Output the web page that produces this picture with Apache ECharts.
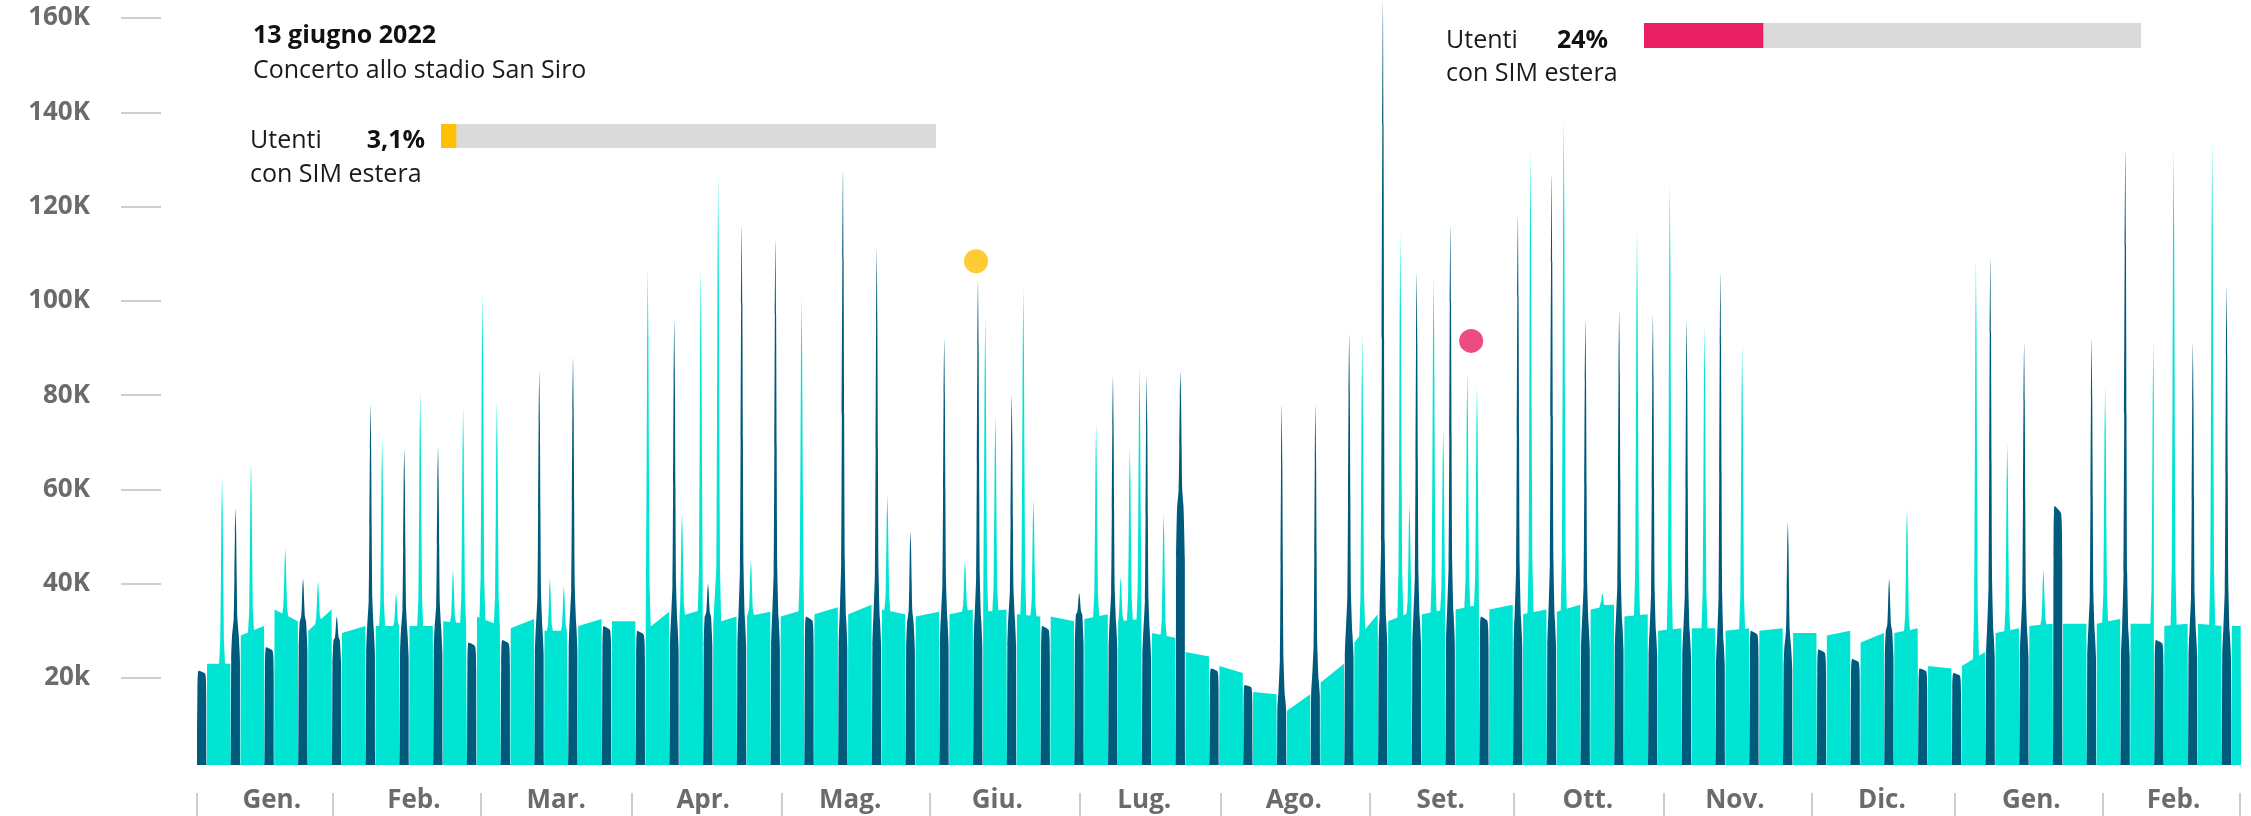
<!DOCTYPE html>
<html>
<head>
<meta charset="utf-8">
<title>Utenti giornalieri – area San Siro</title>
<script src="https://cdn.jsdelivr.net/npm/echarts@6/dist/echarts.min.js"></script>
<style>
  html, body { margin: 0; padding: 0; background: #ffffff; }
  #chart { width: 2251px; height: 816px; }
</style>
</head>
<body>
<div id="chart"></div>
<script>
// Day 0 = Saturday 1 January 2022. Weekend k covers days 7k..7k+2,
// working week k (Mon–Fri) covers days 7k+2..7k+7. Values are in thousands of users.

// Mon–Fri plateau level of each working week: [first day, last day]
const weekLevels = [
  [21.5,21.5],[27.5,29.5],[33,30.5],[28.5,33],[28,29.5],
  [29.5,29.5],[29.5,29.5],[30.5,30],[31.5,29.5],[29,31],
  [28.5,28.5],[29.5,31],[30.5,30.5],[28.5,32.5],[31.5,33],
  [30,31.5],[31.5,32.5],[31.5,33],[32,33.5],[32,34],
  [33,32],[31.5,32.5],[32,33],[32.5,33],[32,31.5],
  [31.5,30.5],[31,32],[30.5,31],[28,27],[24,23],
  [21,19.5],[15.5,15],[11.5,15],[17.5,21.5],[26,32],
  [30.5,32.5],[32,33],[33,34],[33,34],[32,33],
  [32.5,34],[33,34],[31.5,32],[28.5,29],[29,29],
  [28.5,29],[28.5,29],[28,28],[27.5,28.5],[26,28],
  [28,29],[21,20.5],[21,24],[28,29],[29.5,30],
  [30,30],[30,31],[30,30],[29.5,30],[30,29.5],
  [29.5,29.5]
];

// Sat–Sun base level of each weekend
const weekendLevels = [
  20,28,25,30.5,26.5,29.5,28.5,29.5,26,26.5,
  29.5,30.5,29.5,28.5,30.5,31.5,31.5,31.5,31.5,31.5,
  31.5,30.5,31.5,31.5,31.5,29.5,32,30.5,28.5,55,
  20.5,17,15,18.5,28.5,31.5,31.5,32.5,31.5,31.5,
  31.5,30.5,30.5,28.5,28.5,26.5,28.5,25.5,24.5,22.5,
  28.5,20.5,19.5,28.5,28.5,55,28.5,28.5,26.5,28.5,
  28.5
];

// Event peaks: [day, thousands of users]
const peaks = [
  [5.2,61.5],[8,54.5],[11.2,64.5],[18.3,46],[22,39.5],[25.1,39],[29,31.5],
  [36,76.5],[38.4,69.5],[41.3,36.5],[43,67],[46.3,79.5],[50,67.5],[53.1,41.5],[55.2,76],
  [59.2,100.5],[62.2,77.5],[71,83.5],[73.2,39.5],[76.1,38],[78,86.5],
  [93.5,105.5],[99,94.5],[100.6,53.5],[104.5,105.5],[106,38.5],[108.1,125.5],[113,114.5],
  [114.9,43.5],[120,111.5],[125.4,99.5],[134,126.5],[141,109.5],[143.2,57.5],[148,49.5],
  [155,90.5],[159.3,43.5],[162,103],[163.5,95.5],[165.6,74.5],[169,78.5],[171.4,101.5],
  [173.5,56.5],[183,36.5],[186.5,72.5],[190,82.5],[191.6,40],[193.5,67.5],[195.5,84.5],
  [197,82.5],[200.5,53.5],[204,83.5],[225,76.5],[232,76.5],[239,91.5],[241.7,91.5],
  [246,162],[249.6,113],[251.5,55.5],[253,104.5],[256.5,104],[258.5,71.5],[260,114.5],
  [263.5,83.5],[265.5,80.5],[274,116.5],[276.6,130.5],[281,125.5],[283.5,137.5],[288,94.5],
  [291.5,36.5],[295,96.5],[298.7,113.5],[302,95.5],[305.5,123.5],[309,94.5],[312.7,93.5],
  [316,104.5],[320.5,89.5],[330,51.5],[351,39.5],[354.7,54.5],[369,107.5],[372,107.5],
  [375.5,68.5],[379,89.5],[383,41.5],[393,90.5],[395.8,80.5],[400,130.5],[405.8,90.5],
  [410,131],[414,89.5],[418,132.5],[421,101.5]
];

// Highlighted events: [day, level of the marker]
const concertMarker = [161.6, 106.9];
const foreignSimMarker = [264.3, 90];

// Share of users with a foreign SIM for the two highlighted events (%)
const foreignShareConcert = 3.1;
const foreignShareSeptember = 24;

// Axis text
const monthNames = ['Gen.','Feb.','Mar.','Apr.','Mag.','Giu.','Lug.','Ago.','Set.','Ott.','Nov.','Dic.','Gen.','Feb.'];
const monthMids = [15.5, 45, 74.5, 105, 135.5, 166, 196.5, 227.5, 258, 288.5, 319, 349.5, 380.5, 410];
const monthEdges = [0, 28.2, 58.9, 90.2, 121.3, 152, 183.1, 212.4, 243.3, 273.2, 304.3, 335, 364.6, 395.3, 423.7];

const TOTAL_DAYS = 424;
const X_MAX = 424.4;

// Spike outline: [fraction of the rise, half-width in days]
const SPIKE_PROFILE = [[0, 0.62], [0.12, 0.38], [0.45, 0.24], [0.8, 0.13], [1, 0]];

// Push the outline of one spike rising from `baseAt(x)` to `top` at `x0`.
function pushSpike(out, x0, top, baseAt, lo, hi) {
  const left = [], right = [];
  SPIKE_PROFILE.forEach(([f, hw]) => {
    const xl = Math.max(lo, x0 - hw), xr = Math.min(hi, x0 + hw);
    const bl = baseAt(xl), br = baseAt(xr);
    left.push([xl, bl + (top - bl) * f]);
    if (hw > 0) right.unshift([xr, br + (top - br) * f]);
  });
  left.forEach(p => out.push(p));
  right.forEach(p => out.push(p));
}

// Build the two area outlines: each block rises from and returns to zero.
const sortedPeaks = peaks.slice().sort((a, b) => a[0] - b[0]);
const weekdayArea = [];
const weekendArea = [];
for (let k = 0; 7 * k < TOTAL_DAYS; k++) {
  const w0 = 7 * k, w1 = Math.min(7 * k + 2, TOTAL_DAYS);
  const base = weekendLevels[k];
  weekendArea.push([w0, 0], [w0 + 0.1, base * 0.8], [w0 + 0.32, base]);
  sortedPeaks.filter(p => p[0] >= w0 && p[0] < w1).forEach(p => {
    pushSpike(weekendArea, p[0], p[1], () => base, w0 + 0.36, w1 - 0.36);
  });
  weekendArea.push([w1 - 0.32, base * 0.97], [w1 - 0.1, base * 0.8], [w1, 0]);

  const c0 = 7 * k + 2, c1 = Math.min(7 * k + 7, TOTAL_DAYS);
  if (c0 >= TOTAL_DAYS) break;
  const [a, b] = weekLevels[k];
  const level = x => a + (b - a) * (x - c0) / (c1 - c0);
  weekdayArea.push([c0, 0], [c0 + 0.08, a]);
  sortedPeaks.filter(p => p[0] > c0 && p[0] < c1).forEach(p => {
    pushSpike(weekdayArea, p[0], p[1], level, c0 + 0.1, c1 - 0.1);
  });
  weekdayArea.push([c1 - 0.08, b], [c1, 0]);
}

const FONT = '"Open Sans", "Noto Sans", sans-serif';
const GREY = '#6b6b6b';

const chart = echarts.init(document.getElementById('chart'), null, { renderer: 'canvas' });

chart.setOption({
  animation: false,
  backgroundColor: '#ffffff',
  grid: [
    { left: 161, top: 18, width: 10, height: 660 },      // y-axis labels
    { left: 197, top: 11, width: 2046, height: 754 },    // daily users
    { left: 441, top: 124, width: 495, height: 24 },     // foreign SIM share, concert
    { left: 1644, top: 23, width: 497, height: 25 },     // foreign SIM share, September
    { left: 197, top: 792, width: 2046, height: 1 }      // month separators and names
  ],
  xAxis: [
    { gridIndex: 0, type: 'value', show: false },
    { gridIndex: 1, type: 'value', min: 0, max: X_MAX, show: false },
    { gridIndex: 2, type: 'value', min: 0, max: 100, show: false },
    { gridIndex: 3, type: 'value', min: 0, max: 100, show: false },
    {
      gridIndex: 4, type: 'value', min: 0, max: X_MAX,
      axisLine: { show: false },
      splitLine: { show: false },
      axisTick: { show: true, customValues: monthEdges, length: 24, lineStyle: { color: '#cccccc', width: 2 } },
      axisLabel: {
        customValues: monthMids, margin: -5,
        formatter: v => monthNames[monthMids.indexOf(v)] || '',
        fontFamily: FONT, fontWeight: 'bold', fontSize: 26, color: GREY
      }
    }
  ],
  yAxis: [
    {
      gridIndex: 0, type: 'value', min: 20, max: 160, interval: 20,
      axisLine: { show: false },
      splitLine: { show: false },
      axisTick: { show: true, length: 40, lineStyle: { color: '#cfcfcf', width: 2 } },
      axisLabel: {
        margin: 71,
        formatter: v => (v === 20 ? '20k' : v + 'K'),
        fontFamily: FONT, fontWeight: 'bold', fontSize: 26, color: GREY
      }
    },
    { gridIndex: 1, type: 'value', min: 0, max: 160, show: false },
    { gridIndex: 2, type: 'category', data: ['share'], show: false },
    { gridIndex: 3, type: 'category', data: ['share'], show: false },
    { gridIndex: 4, type: 'value', show: false }
  ],
  series: [
    {
      type: 'line', xAxisIndex: 1, yAxisIndex: 1, data: weekdayArea,
      showSymbol: false, silent: true, clip: false,
      lineStyle: { width: 0 },
      areaStyle: { color: '#00e4d4', opacity: 1 }
    },
    {
      type: 'line', xAxisIndex: 1, yAxisIndex: 1, data: weekendArea,
      showSymbol: false, silent: true, clip: false, smooth: 0.2,
      lineStyle: { width: 0 },
      areaStyle: { color: '#005a7c', opacity: 1 }
    },
    {
      type: 'scatter', xAxisIndex: 1, yAxisIndex: 1, silent: true,
      data: [{ value: concertMarker, itemStyle: { color: '#ffc000' } },
             { value: foreignSimMarker, itemStyle: { color: '#e91f63' } }],
      symbolSize: 24
    },
    {
      type: 'bar', xAxisIndex: 2, yAxisIndex: 2, data: [foreignShareConcert], barWidth: 24,
      itemStyle: { color: '#ffc000' }, silent: true,
      showBackground: true, backgroundStyle: { color: '#dadada' }
    },
    {
      type: 'bar', xAxisIndex: 3, yAxisIndex: 3, data: [foreignShareSeptember], barWidth: 25,
      itemStyle: { color: '#e91f63' }, silent: true,
      showBackground: true, backgroundStyle: { color: '#dadada' }
    }
  ],
  graphic: [
    { type: 'text', x: 253, y: 23, style: { text: '13 giugno 2022', font: 'bold 25px ' + FONT, fill: '#111111', verticalAlign: 'top' } },
    { type: 'text', x: 253, y: 58, style: { text: 'Concerto allo stadio San Siro', font: '25px ' + FONT, fill: '#1a1a1a', verticalAlign: 'top' } },
    { type: 'text', x: 250, y: 128, style: { text: 'Utenti', font: '25px ' + FONT, fill: '#1a1a1a', verticalAlign: 'top' } },
    { type: 'text', x: 425, y: 128, style: { text: foreignShareConcert.toString().replace('.', ',') + '%', font: 'bold 25px ' + FONT, fill: '#111111', align: 'right', textAlign: 'right', verticalAlign: 'top' } },
    { type: 'text', x: 250, y: 162, style: { text: 'con SIM estera', font: '25px ' + FONT, fill: '#1a1a1a', verticalAlign: 'top' } },
    { type: 'text', x: 1446, y: 28, style: { text: 'Utenti', font: '25px ' + FONT, fill: '#1a1a1a', verticalAlign: 'top' } },
    { type: 'text', x: 1608, y: 28, style: { text: foreignShareSeptember + '%', font: 'bold 25px ' + FONT, fill: '#111111', align: 'right', textAlign: 'right', verticalAlign: 'top' } },
    { type: 'text', x: 1446, y: 61, style: { text: 'con SIM estera', font: '25px ' + FONT, fill: '#1a1a1a', verticalAlign: 'top' } }
  ]
});
</script>
</body>
</html>
